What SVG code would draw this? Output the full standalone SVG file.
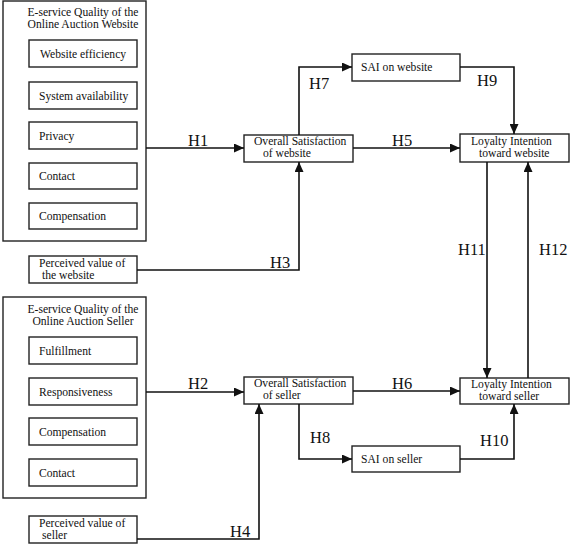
<svg xmlns="http://www.w3.org/2000/svg" width="572" height="553" viewBox="0 0 572 553">
<defs>
<marker id="arr" markerUnits="userSpaceOnUse" markerWidth="10" markerHeight="9" refX="10" refY="4.5" orient="auto">
<path d="M0,0 L10,4.5 L0,9 z" fill="#111"/>
</marker>
<style>
rect{fill:#fff;stroke:#222;stroke-width:1.4}
text{font-family:"Liberation Serif","Times New Roman",serif;fill:#111}
.t{font-size:11.6px}
.h{font-size:16.5px}
.c{stroke:#111;stroke-width:1.6;fill:none;marker-end:url(#arr)}
</style>
</defs>
<rect x="0" y="0" width="572" height="553" style="fill:#fff;stroke:none"/>
<g id="grp-website">
<rect x="3" y="1" width="143" height="240"/>
<text class="t" x="83" y="15.5" text-anchor="middle">E-service Quality of the</text>
<text class="t" x="83" y="27.5" text-anchor="middle">Online Auction Website</text>
</g>
<g id="n-efficiency"><rect x="29" y="40" width="108" height="27"/><text class="t" x="40" y="58">Website efficiency</text></g>
<g id="n-availability"><rect x="29" y="82" width="108" height="27"/><text class="t" x="39" y="100">System availability</text></g>
<g id="n-privacy"><rect x="29" y="122" width="108" height="27"/><text class="t" x="39" y="140">Privacy</text></g>
<g id="n-contact1"><rect x="29" y="163" width="108" height="26"/><text class="t" x="39" y="180">Contact</text></g>
<g id="n-compensation1"><rect x="29" y="203" width="108" height="26"/><text class="t" x="39" y="220">Compensation</text></g>
<g id="n-pv-website"><rect x="29" y="256" width="108" height="27"/><text class="t" x="39" y="266.5">Perceived value of</text><text class="t" x="42" y="278.5">the website</text></g>
<g id="grp-seller">
<rect x="3" y="297" width="143" height="201"/>
<text class="t" x="83" y="312.5" text-anchor="middle">E-service Quality of the</text>
<text class="t" x="83" y="324.5" text-anchor="middle">Online Auction Seller</text>
</g>
<g id="n-fulfillment"><rect x="29" y="337" width="108" height="27"/><text class="t" x="39" y="355">Fulfillment</text></g>
<g id="n-responsiveness"><rect x="29" y="378" width="108" height="27"/><text class="t" x="39" y="396">Responsiveness</text></g>
<g id="n-compensation2"><rect x="29" y="418" width="108" height="27"/><text class="t" x="39" y="436">Compensation</text></g>
<g id="n-contact2"><rect x="29" y="459" width="108" height="27"/><text class="t" x="39" y="477">Contact</text></g>
<g id="n-pv-seller"><rect x="29" y="516" width="108" height="27"/><text class="t" x="39" y="526.5">Perceived value of</text><text class="t" x="42" y="538.5">seller</text></g>
<g id="n-os-website"><rect x="244" y="135" width="109" height="27"/><text class="t" x="254" y="144.5">Overall Satisfaction</text><text class="t" x="263" y="156.5">of website</text></g>
<g id="n-os-seller"><rect x="244" y="377" width="109" height="27"/><text class="t" x="254" y="386.5">Overall Satisfaction</text><text class="t" x="263" y="398.5">of seller</text></g>
<g id="n-sai-website"><rect x="352" y="54" width="108" height="27"/><text class="t" x="361" y="71">SAI on website</text></g>
<g id="n-sai-seller"><rect x="352" y="446" width="108" height="26"/><text class="t" x="361" y="463">SAI on seller</text></g>
<g id="n-li-website"><rect x="460" y="134" width="109" height="28"/><text class="t" x="471" y="144.5">Loyalty Intention</text><text class="t" x="479" y="156.5">toward website</text></g>
<g id="n-li-seller"><rect x="460" y="378" width="109" height="26"/><text class="t" x="471" y="387.5">Loyalty Intention</text><text class="t" x="479" y="399.5">toward seller</text></g>
<g id="connectors">
<path class="c" d="M146,148 H244"/>
<path class="c" d="M146,392 H244"/>
<path class="c" d="M137,270 H299 V162"/>
<path class="c" d="M137,539 H259 V404"/>
<path class="c" d="M353,148 H460"/>
<path class="c" d="M353,391 H460"/>
<path class="c" d="M299,135 V67 H352"/>
<path class="c" d="M299,404 V459 H352"/>
<path class="c" d="M460,67 H514 V134"/>
<path class="c" d="M460,459 H514 V404"/>
<path class="c" d="M487,162 V378"/>
<path class="c" d="M528,378 V162"/>
<text class="h" x="188" y="146">H1</text>
<text class="h" x="188" y="389">H2</text>
<text class="h" x="270" y="268">H3</text>
<text class="h" x="230" y="537">H4</text>
<text class="h" x="392" y="146">H5</text>
<text class="h" x="392" y="389">H6</text>
<text class="h" x="309" y="89">H7</text>
<text class="h" x="310" y="443">H8</text>
<text class="h" x="477" y="86">H9</text>
<text class="h" x="480" y="446">H10</text>
<text class="h" x="458" y="255">H11</text>
<text class="h" x="539" y="255">H12</text>
</g>
</svg>
